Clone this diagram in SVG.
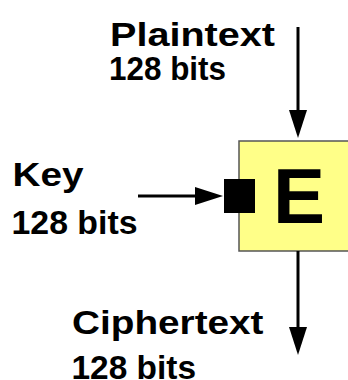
<svg xmlns="http://www.w3.org/2000/svg" width="348" height="380" viewBox="0 0 348 380">
  <style>
    .lbl { font-family: "Liberation Sans", Arial, sans-serif; font-weight: bold; font-size: 34px; fill: #000; }
    .big { font-family: "Liberation Sans", Arial, sans-serif; font-weight: bold; font-size: 78px; fill: #000; }
    .wire { stroke: #000; stroke-width: 3; fill: none; }
  </style>
  <defs>
    <marker id="head" markerUnits="userSpaceOnUse" markerWidth="28" markerHeight="18" refX="15" refY="9" orient="auto">
      <path d="M0,0 L28,9 L0,18 z" fill="#000"/>
    </marker>
  </defs>

  <rect width="348" height="380" fill="#fff"/>

  <!-- encryption block -->
  <g id="cipher">
    <rect x="239" y="141" width="120" height="110" fill="#ffff88" stroke="#555" stroke-width="1.5"/>
    <text class="big" x="273" y="223">E</text>
  </g>

  <!-- key input port -->
  <g id="keyport">
    <rect x="224" y="179" width="31" height="34" fill="#000"/>
  </g>

  <g id="plaintext">
    <text class="lbl" x="110" y="46" textLength="165" lengthAdjust="spacingAndGlyphs">Plaintext</text>
    <text class="lbl" x="109" y="80" textLength="117" lengthAdjust="spacingAndGlyphs">128 bits</text>
  </g>

  <g id="key">
    <text class="lbl" x="12.5" y="186" textLength="71" lengthAdjust="spacingAndGlyphs">Key</text>
    <text class="lbl" x="11.5" y="234" textLength="126" lengthAdjust="spacingAndGlyphs">128 bits</text>
  </g>

  <g id="ciphertext">
    <text class="lbl" x="72" y="334" textLength="191.5" lengthAdjust="spacingAndGlyphs">Ciphertext</text>
    <text class="lbl" x="71.5" y="379" textLength="124.5" lengthAdjust="spacingAndGlyphs">128 bits</text>
  </g>

  <!-- connectors -->
  <g id="connectors">
    <line class="wire" x1="298" y1="27" x2="298" y2="125" marker-end="url(#head)"/>
    <line class="wire" x1="138" y1="196" x2="210" y2="196" marker-end="url(#head)"/>
    <line class="wire" x1="298" y1="251" x2="298" y2="342" marker-end="url(#head)"/>
  </g>
</svg>
